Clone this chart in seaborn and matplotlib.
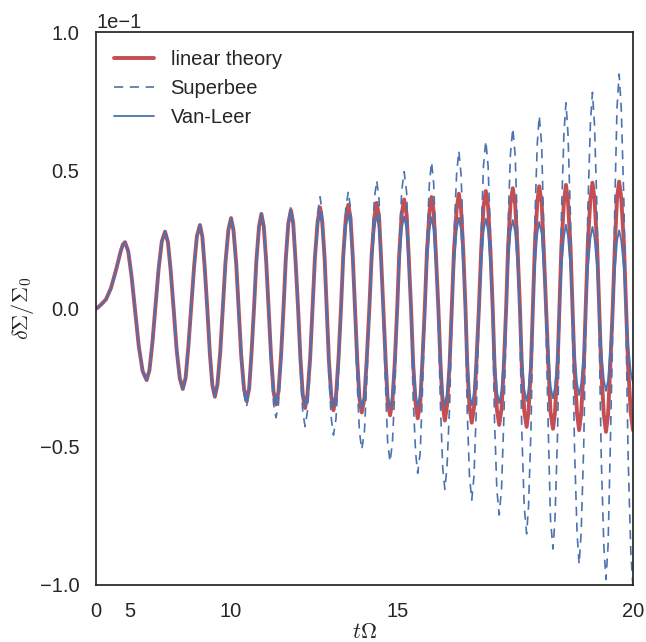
"""
Density perturbation vs time: linear theory against two limiters
"""
import numpy as np
import matplotlib
matplotlib.use("Agg")
import matplotlib.pyplot as plt
import seaborn as sns

# time (t*Omega)
t_omega = [0, 1.00, 1.93, 2.73, 3.34, 3.86, 4.31, 4.48, 4.65,
           4.90, 5.15, 5.40, 5.64, 5.89, 6.14,
           6.31, 6.48, 6.66, 6.83, 7.00, 7.17,
           7.32, 7.46, 7.61, 7.75, 7.90, 8.04,
           8.17, 8.29, 8.42, 8.55, 8.67, 8.80,
           8.90, 9.00, 9.11, 9.21, 9.31, 9.41,
           9.51, 9.62, 9.72, 9.82, 9.93, 10.03,
           10.12, 10.22, 10.31, 10.40, 10.50, 10.59,
           10.68, 10.76, 10.85, 10.93, 11.02, 11.10,
           11.18, 11.26, 11.34, 11.42, 11.50, 11.58,
           11.66, 11.74, 11.82, 11.89, 11.97, 12.05,
           12.12, 12.19, 12.27, 12.34, 12.41, 12.48,
           12.55, 12.63, 12.70, 12.77, 12.85, 12.92,
           12.98, 13.05, 13.11, 13.17, 13.24, 13.30,
           13.37, 13.44, 13.51, 13.57, 13.64, 13.71,
           13.77, 13.83, 13.89, 13.95, 14.01, 14.07,
           14.14, 14.20, 14.27, 14.33, 14.40, 14.46,
           14.52, 14.57, 14.63, 14.69, 14.74, 14.80,
           14.86, 14.92, 14.98, 15.03, 15.09, 15.15,
           15.21, 15.26, 15.32, 15.37, 15.43, 15.48,
           15.54, 15.59, 15.65, 15.70, 15.76, 15.81,
           15.86, 15.91, 15.97, 16.02, 16.07, 16.12,
           16.17, 16.23, 16.28, 16.33, 16.39, 16.44,
           16.49, 16.54, 16.59, 16.63, 16.68, 16.73,
           16.78, 16.83, 16.89, 16.94, 16.99, 17.04,
           17.09, 17.14, 17.19, 17.23, 17.28, 17.33,
           17.38, 17.43, 17.48, 17.52, 17.57, 17.62,
           17.67, 17.72, 17.77, 17.81, 17.86, 17.91,
           17.95, 18.00, 18.04, 18.08, 18.13, 18.17,
           18.22, 18.26, 18.31, 18.36, 18.40, 18.45,
           18.49, 18.54, 18.58, 18.62, 18.67, 18.71,
           18.75, 18.80, 18.84, 18.88, 18.93, 18.97,
           19.01, 19.06, 19.10, 19.14, 19.19, 19.23,
           19.27, 19.32, 19.36, 19.40, 19.45, 19.49,
           19.53, 19.57, 19.62, 19.66, 19.70, 19.74,
           19.78, 19.83, 19.87, 19.91, 19.96, 20.00]

# values in units of 1e-1 (as read on the y axis)
linear_theory = [0, .002, .014, .033, .074, .139, .210, .232, .240,
                 .207, .115, -.010, -.134, -.226, -.259,
                 -.223, -.125, .010, .144, .242, .278,
                 .240, .136, -.007, -.149, -.253, -.291,
                 -.251, -.143, .006, .154, .262, .302,
                 .260, .147, -.009, -.164, -.277, -.319,
                 -.276, -.158, .004, .166, .284, .327,
                 .283, .162, -.004, -.170, -.291, -.335,
                 -.290, -.166, .004, .173, .297, .342,
                 .296, .170, -.003, -.175, -.301, -.347,
                 -.300, -.171, .005, .180, .309, .356,
                 .308, .177, -.002, -.181, -.312, -.360,
                 -.311, -.179, .003, .184, .316, .365,
                 .316, .182, -.002, -.185, -.319, -.368,
                 -.318, -.182, .004, .189, .325, .375,
                 .325, .187, -.001, -.188, -.326, -.376,
                 -.325, -.187, .003, .193, .331, .382,
                 .331, .190, -.002, -.194, -.335, -.386,
                 -.334, -.191, .004, .199, .342, .394,
                 .341, .196, -.002, -.199, -.344, -.397,
                 -.343, -.197, .003, .203, .349, .403,
                 .349, .201, -.001, -.203, -.351, -.405,
                 -.350, -.200, .005, .210, .360, .415,
                 .360, .208, .001, -.206, -.358, -.413,
                 -.357, -.204, .006, .216, .369, .425,
                 .368, .214, .002, -.210, -.364, -.421,
                 -.364, -.207, .007, .221, .378, .435,
                 .377, .219, .004, -.212, -.370, -.428,
                 -.370, -.211, .007, .225, .384, .442,
                 .383, .223, .004, -.216, -.376, -.435,
                 -.376, -.215, .006, .227, .388, .447,
                 .388, .225, .004, -.218, -.381, -.440,
                 -.380, -.216, .008, .231, .395, .455,
                 .395, .230, .005, -.221, -.386, -.446,
                 -.385, -.220, .007, .233, .399, .459,
                 .399, .234, .010, -.215, -.380, -.440]

superbee = [0, .002, .014, .033, .074, .139, .210, .232, .240,
            .207, .115, -.010, -.134, -.226, -.259,
            -.223, -.125, .010, .144, .242, .278,
            .240, .136, -.007, -.150, -.254, -.292,
            -.252, -.143, .006, .154, .263, .303,
            .261, .147, -.010, -.166, -.280, -.322,
            -.278, -.159, .004, .167, .286, .330,
            .284, .159, -.013, -.184, -.309, -.355,
            -.308, -.180, -.005, .171, .299, .346,
            .296, .161, -.025, -.210, -.345, -.395,
            -.344, -.204, -.014, .177, .317, .368,
            .315, .169, -.030, -.228, -.374, -.427,
            -.371, -.219, -.012, .196, .348, .404,
            .346, .189, -.027, -.243, -.400, -.458,
            -.399, -.238, -.018, .203, .364, .423,
            .360, .190, -.044, -.277, -.448, -.510,
            -.445, -.267, -.024, .220, .398, .463,
            .395, .209, -.046, -.300, -.486, -.554,
            -.484, -.292, -.030, .233, .425, .495,
            .422, .222, -.051, -.323, -.523, -.596,
            -.521, -.315, -.033, .249, .455, .530,
            .451, .234, -.062, -.358, -.575, -.654,
            -.572, -.348, -.042, .264, .488, .570,
            .485, .254, -.062, -.377, -.608, -.693,
            -.606, -.368, -.044, .281, .519, .606,
            .515, .268, -.071, -.409, -.656, -.747,
            -.653, -.397, -.048, .302, .558, .652,
            .554, .285, -.082, -.448, -.717, -.815,
            -.714, -.437, -.059, .319, .596, .697,
            .592, .305, -.087, -.478, -.765, -.870,
            -.762, -.467, -.063, .341, .636, .744,
            .632, .327, -.091, -.508, -.813, -.925,
            -.811, -.498, -.072, .355, .668, .782,
            .664, .342, -.099, -.540, -.862, -.980,
            -.858, -.523, -.066, .391, .726, .848,
            .724, .384, -.081, -.546, -.886, -1.010]

van_leer = [0, .002, .014, .033, .074, .139, .210, .232, .240,
            .207, .115, -.010, -.134, -.226, -.259,
            -.223, -.125, .010, .144, .242, .278,
            .240, .136, -.007, -.149, -.253, -.291,
            -.251, -.143, .006, .154, .262, .302,
            .260, .147, -.008, -.163, -.276, -.318,
            -.275, -.157, .004, .165, .283, .326,
            .282, .161, -.004, -.168, -.289, -.333,
            -.288, -.165, .004, .172, .295, .340,
            .294, .169, -.003, -.174, -.299, -.345,
            -.298, -.171, .003, .176, .304, .350,
            .303, .174, -.003, -.179, -.308, -.355,
            -.308, -.180, -.004, .172, .301, .348,
            .301, .172, -.005, -.181, -.310, -.357,
            -.310, -.182, -.008, .167, .295, .342,
            .295, .167, -.009, -.185, -.313, -.360,
            -.313, -.186, -.012, .163, .290, .337,
            .290, .163, -.012, -.186, -.313, -.360,
            -.314, -.187, -.014, .160, .287, .333,
            .287, .161, -.011, -.183, -.309, -.355,
            -.309, -.184, -.013, .159, .284, .330,
            .284, .159, -.012, -.182, -.307, -.353,
            -.307, -.183, -.013, .158, .282, .328,
            .283, .159, -.011, -.181, -.305, -.350,
            -.305, -.181, -.013, .156, .280, .325,
            .280, .158, -.009, -.175, -.297, -.342,
            -.298, -.177, -.011, .155, .276, .320,
            .276, .156, -.008, -.171, -.291, -.335,
            -.292, -.173, -.011, .151, .270, .313,
            .270, .153, -.006, -.166, -.282, -.325,
            -.283, -.168, -.011, .146, .261, .303,
            .262, .149, -.005, -.159, -.272, -.313,
            -.272, -.161, -.009, .143, .254, .295,
            .255, .147, -.002, -.150, -.258, -.298,
            -.259, -.153, -.008, .138, .244, .283,
            .246, .145, .007, -.132, -.233, -.270]

x_ticks = [0, 5, 10, 15, 20]

sns.set_theme(style="white")
plt.rcParams['font.family'] = ['Liberation Sans', 'DejaVu Sans']
plt.rcParams['mathtext.fontset'] = 'cm'

red = "#C44E52"
blue = "#4C72B0"

t = np.array(t_omega)
fig = plt.figure(figsize=(6.46, 6.42), dpi=100)
ax = fig.add_axes([96 / 646, 1 - 585 / 642, 537 / 646, 553 / 642])

sns.lineplot(x=t, y=np.array(linear_theory) * 0.1, color=red, lw=2.8,
             label="linear theory", ax=ax, sort=False)
sns.lineplot(x=t, y=np.array(superbee) * 0.1, color=blue, lw=1.2,
             ls=(0, (5.5, 4)), label="Superbee", ax=ax, sort=False)
sns.lineplot(x=t, y=np.array(van_leer) * 0.1, color=blue, lw=1.3,
             label="Van-Leer", ax=ax, sort=False)

# x axis is stretched quadratically
ax.set_xscale('function', functions=(lambda x: np.asarray(x) ** 2,
                                     lambda x: np.sqrt(np.clip(x, 0, None))))
ax.set_xlim(0, 20)
ax.set_ylim(-0.1, 0.1)
ax.set_xticks(x_ticks)
ax.set_xticklabels([str(v) for v in x_ticks])
ax.set_yticks([-0.1, -0.05, 0, 0.05, 0.1])
ax.ticklabel_format(axis='y', style='sci', scilimits=(0, 0))
ax.yaxis.get_offset_text().set_fontsize(14.5)
ax.tick_params(labelsize=14.5, length=0, pad=12)

for sp in ax.spines.values():
    sp.set_color("#262626")
    sp.set_linewidth(1.25)

ax.set_xlabel(r"$t\Omega$", fontsize=16, labelpad=1)
ax.set_ylabel(r"$\delta\Sigma/\Sigma_0$", fontsize=16, labelpad=3)

ax.legend(loc="upper left", frameon=False, fontsize=14.5)

fig.savefig("out.png", dpi=100)
